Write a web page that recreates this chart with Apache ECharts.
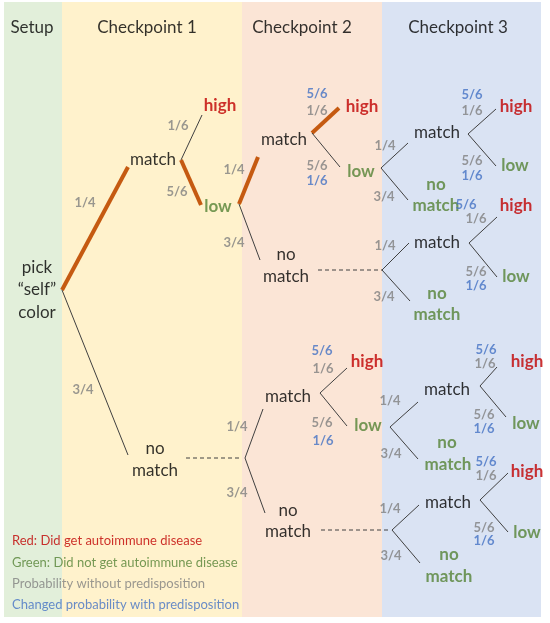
<!DOCTYPE html>
<html><head><meta charset="utf-8">
<script src="https://cdn.jsdelivr.net/npm/echarts@6/dist/echarts.min.js"></script>
<style>html,body{margin:0;padding:0;background:#fff}#c{width:550px;height:623px}</style>
</head><body><div id="c"></div>
<script>
// Column bands: [x0, x1, colour]
const bands = [[4,62,'#e2efda'],[62,242,'#fff2cc'],[242,382,'#fbe5d6'],[382,541,'#dae3f3']];
const headers = [[32,28,'Setup'],[147,28,'Checkpoint 1'],[302,28,'Checkpoint 2'],[458,28,'Checkpoint 3']];
// Segments: x1,y1,x2,y2,type (t=thick path, n=thin, d=dashed)
const segments = [
 [62,290,128,167,'t'],[62,290,128,455,'n'],
 [181,160,202,115,'n'],[181,160,201,205,'t'],
 [239,204,258,157,'t'],[239,204,260,260,'n'],
 [312,133,339,108,'t'],[312,133,340,167,'n'],
 [318,270,382,270,'d'],
 [381,168,408,143,'n'],[381,168,408,200,'n'],
 [468,134,496,109,'n'],[468,134,496,166,'n'],
 [382,270,409,243,'n'],[382,270,410,301,'n'],
 [469,243,497,217,'n'],[469,243,497,277,'n'],
 [186,458,242,458,'d'],
 [245,458,263,409,'n'],[245,458,265,513,'n'],
 [320,393,347,368,'n'],[320,393,347,426,'n'],
 [321,530,390,530,'d'],
 [390,427,418,402,'n'],[390,427,418,459,'n'],
 [480,386,497,367,'n'],[480,386,506,417,'n'],
 [392,530,419,505,'n'],[392,530,420,563,'n'],
 [480,500,508,473,'n'],[480,500,508,532,'n']
];
// Node labels: x,y,text,kind (k=black,r=red bold,g=green bold)
const nodes = [
 [37,268,'pick','k'],[37,290,'\u201cself\u201d','k'],[37,313,'color','k'],
 [153,160,'match','k'],[220,106,'high','r'],[218,207,'low','g'],
 [155,449,'no','k'],[155,471,'match','k'],
 [284,140,'match','k'],[362,107,'high','r'],[361,172,'low','g'],
 [286,255,'no','k'],[286,277,'match','k'],
 [437,133,'match','k'],[516,107,'high','r'],[515,166,'low','g'],
 [436,185,'no','g'],[436,206,'match','g'],
 [437,243,'match','k'],[516,206,'high','r'],[516,277,'low','g'],
 [437,294,'no','g'],[437,315,'match','g'],
 [288,397,'match','k'],[367,362,'high','r'],[368,426,'low','g'],
 [288,511,'no','k'],[288,532,'match','k'],
 [447,390,'match','k'],[527,362,'high','r'],[526,424,'low','g'],
 [447,443,'no','g'],[448,465,'match','g'],
 [448,503,'match','k'],[527,472,'high','r'],[527,533,'low','g'],
 [449,555,'no','g'],[449,577,'match','g']
];
// Probability labels: x,y,text,kind (p=grey, b=blue)
const probs = [
 [85,203,'1/4','p'],[83,390,'3/4','p'],
 [178,126,'1/6','p'],[177,192,'5/6','p'],
 [234,170,'1/4','p'],[234,243,'3/4','p'],
 [317,94,'5/6','b'],[317,111,'1/6','p'],[317,166,'5/6','p'],[317,181,'1/6','b'],
 [385,146,'1/4','p'],[384,197,'3/4','p'],
 [472,95,'5/6','b'],[472,111,'1/6','p'],[472,161,'5/6','p'],[472,176,'1/6','b'],
 [385,246,'1/4','p'],[384,297,'3/4','p'],
 [466,205,'5/6','b'],[476,219,'1/6','p'],[476,272,'5/6','p'],[476,286,'1/6','b'],
 [237,427,'1/4','p'],[237,493,'3/4','p'],
 [322,351,'5/6','b'],[323,369,'1/6','p'],[322,423,'5/6','p'],[323,441,'1/6','b'],
 [390,401,'1/4','p'],[391,454,'3/4','p'],
 [486,350,'5/6','b'],[485,364,'1/6','p'],[484,415,'5/6','p'],[484,429,'1/6','b'],
 [390,509,'1/4','p'],[391,556,'3/4','p'],
 [486,462,'5/6','b'],[486,476,'1/6','p'],[484,528,'5/6','p'],[484,541,'1/6','b']
];
const legend = [[12,541,'Red: Did get autoimmune disease','r'],[12,563,'Green: Did not get autoimmune disease','g'],
 [12,584,'Probability without predisposition','p'],[12,605,'Changed probability with predisposition','b']];

const C = {k:'#000',r:'#c00000',g:'#548235',p:'#7f7f7f',b:'#4472c4'};
const FONT = 'Lato';
const chart = echarts.init(document.getElementById('c'));
function textSeries(data, size, weightFn, align){
  return {type:'scatter', symbolSize:0, silent:true, z:5,
    data:data.map(d=>({value:[d[0],d[1]],
      label:{show:true,position:'inside',formatter:d[2],color:C[d[3]]||'#000',
        fontSize:size,fontFamily:FONT,fontWeight:weightFn(d),align:align||'center',verticalAlign:'middle'}}))};
}
chart.setOption({
  animation:false,
  grid:{left:0,right:0,top:0,bottom:0},
  xAxis:{type:'value',min:0,max:550,show:false},
  yAxis:{type:'value',min:0,max:623,inverse:true,show:false},
  series:[
    {type:'custom', z:1, silent:true, data:bands,
     renderItem:(p,api)=>{const a=api.coord([api.value(0),0]),b=api.coord([api.value(1),617]);
       return {type:'rect',shape:{x:a[0],y:a[1]+2,width:b[0]-a[0],height:b[1]-a[1]-2},style:{fill:bands[p.dataIndex][2]}};},
     encode:{x:[0,1]}},
    {type:'custom', z:3, silent:true, data:segments.map(s=>s.slice(0,4)),
     renderItem:(p,api)=>{const t=segments[p.dataIndex][4];
       const a=api.coord([api.value(0),api.value(1)]),b=api.coord([api.value(2),api.value(3)]);
       return {type:'line',shape:{x1:a[0],y1:a[1],x2:b[0],y2:b[1]},
         style:{stroke:t==='t'?'#c55a11':'#404040',lineWidth:t==='t'?4:1,lineDash:t==='d'?[4,3]:null}};},
     encode:{x:[0,2],y:[1,3]}},
    textSeries(headers.map(h=>[h[0],h[1],h[2],'k']),17,()=>'normal'),
    textSeries(nodes,17,d=>d[3]==='k'?'normal':'bold'),
    textSeries(probs,13,()=>'bold'),
    textSeries(legend,13,()=>'normal','left')
  ]
});
</script></body></html>
